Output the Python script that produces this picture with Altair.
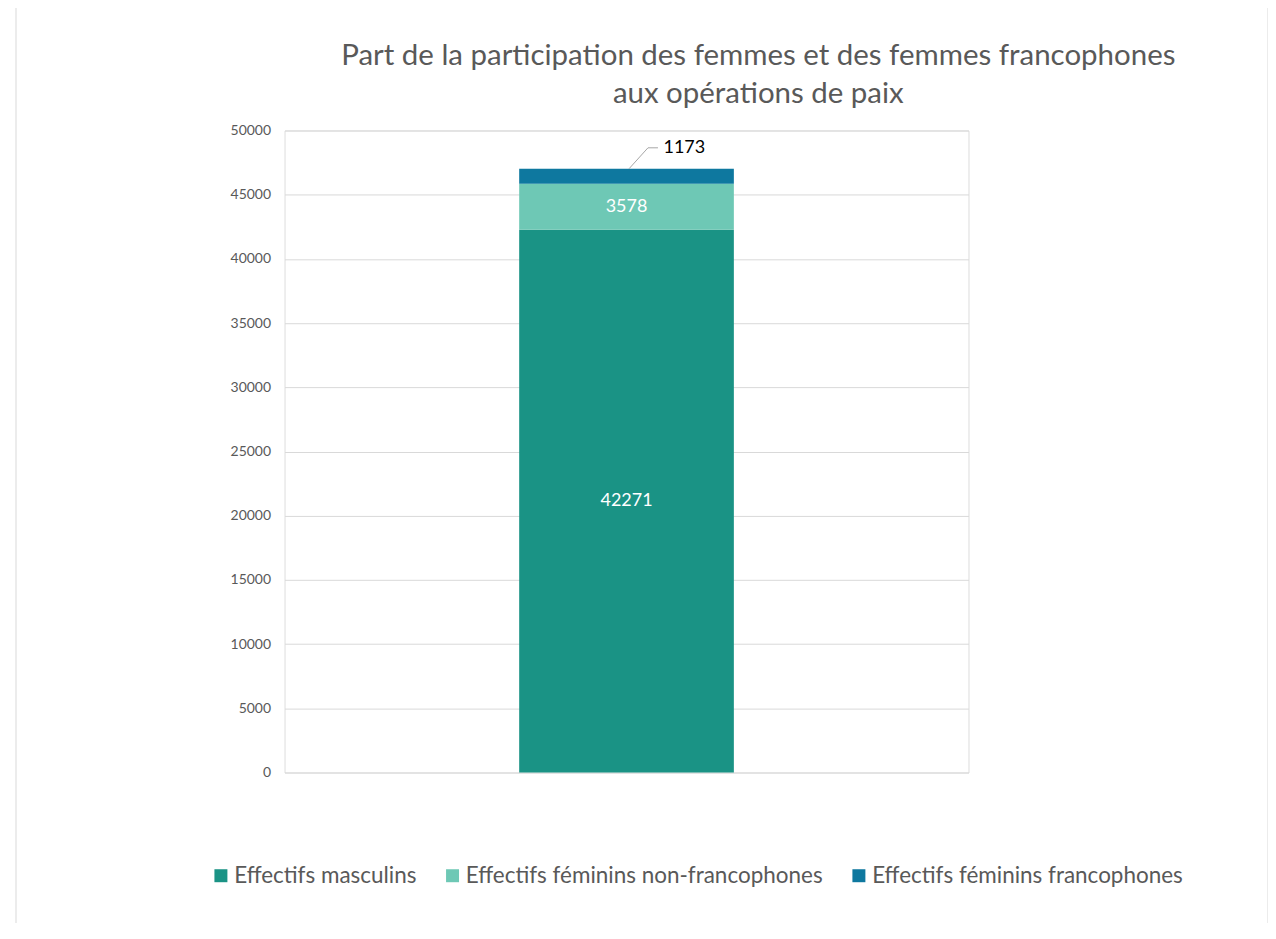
import altair as alt
import pandas as pd

series = ["Effectifs masculins", "Effectifs féminins non-francophones", "Effectifs féminins francophones"]
values = [42271, 3578, 1173]
order = [0, 1, 2]
colors = ["#1A9385", "#6EC8B5", "#0E789F"]
y_ticks = [0, 5000, 10000, 15000, 20000, 25000, 30000, 35000, 40000, 45000, 50000]
title_lines = ["Part de la participation des femmes et des femmes francophones", "aux opérations de paix"]

df = pd.DataFrame({"cat": ["Total"] * 3, "serie": series, "valeur": values, "ordre": order})

FONT = "Lato"
GRAY = "#595959"

xenc = alt.X("cat:N", axis=None, scale=alt.Scale(paddingInner=0.085, paddingOuter=1))

base = alt.Chart(df)

bars = base.mark_bar().encode(
    x=xenc,
    y=alt.Y("valeur:Q", stack="zero", title=None,
            scale=alt.Scale(domain=[0, 50000], nice=False),
            axis=alt.Axis(values=y_ticks, format="d", domain=False, ticks=False, labelPadding=14,
                          labelColor=GRAY, labelFont=FONT, labelFontSize=14,
                          gridColor="#D9D9D9", gridWidth=1)),
    color=alt.Color("serie:N", scale=alt.Scale(domain=series, range=colors),
                    legend=alt.Legend(title=None, orient="none", direction="horizontal",
                                      legendX=-75, legendY=735, symbolType="square",
                                      symbolSize=169, symbolStrokeWidth=0, labelFont=FONT,
                                      labelFontSize=22.5, labelColor=GRAY, columnPadding=24,
                                      labelOffset=2, labelLimit=800)),
    order=alt.Order("ordre:Q"),
)

inner = base.transform_window(
    cum="sum(valeur)", sort=[alt.SortField("ordre")]
).transform_calculate(
    mid="datum.cum - datum.valeur / 2"
).transform_filter("datum.ordre < 2").mark_text(
    font=FONT, fontSize=18, color="white", baseline="middle"
).encode(x=xenc, y=alt.Y("mid:Q"), text=alt.Text("valeur:Q", format="d"))

top = base.transform_joinaggregate(total="sum(valeur)").transform_filter("datum.ordre == 2")

top_label = top.mark_text(font=FONT, fontSize=18, color="black", align="left",
                          baseline="middle", dx=37, dy=-21).encode(
    x=xenc, y=alt.Y("total:Q"), text=alt.Text("valeur:Q", format="d"))

leader = top.mark_rule(color="#A6A6A6", strokeWidth=1, y2Offset=-21).encode(
    x=alt.value(345), x2=alt.value(364), y=alt.Y("total:Q"), y2=alt.Y2("total:Q"))
leader2 = top.mark_rule(color="#A6A6A6", strokeWidth=1, yOffset=-21).encode(
    x=alt.value(364), x2=alt.value(374), y=alt.Y("total:Q"))

frame = base.transform_filter("datum.ordre == 0").mark_rect(
    fill="transparent", stroke="#D9D9D9", strokeWidth=1).encode(
    x=alt.value(-269), x2=alt.value(985), y=alt.value(-127), y2=alt.value(820))

chart = alt.layer(frame, bars, inner, leader, leader2, top_label).properties(
    width=685, height=643,
    title=alt.TitleParams(text=title_lines, font=FONT, fontSize=29.5, fontWeight="normal",
                          color=GRAY, anchor="middle", dx=132, offset=-106, lineHeight=38),
    autosize=alt.AutoSizeParams(type="none"),
    padding={"left": 277, "top": 122, "right": 300, "bottom": 150},
).configure_view(stroke=None).configure(background="white")

chart.save("out.html", embed_options={"renderer": "svg", "actions": False})
